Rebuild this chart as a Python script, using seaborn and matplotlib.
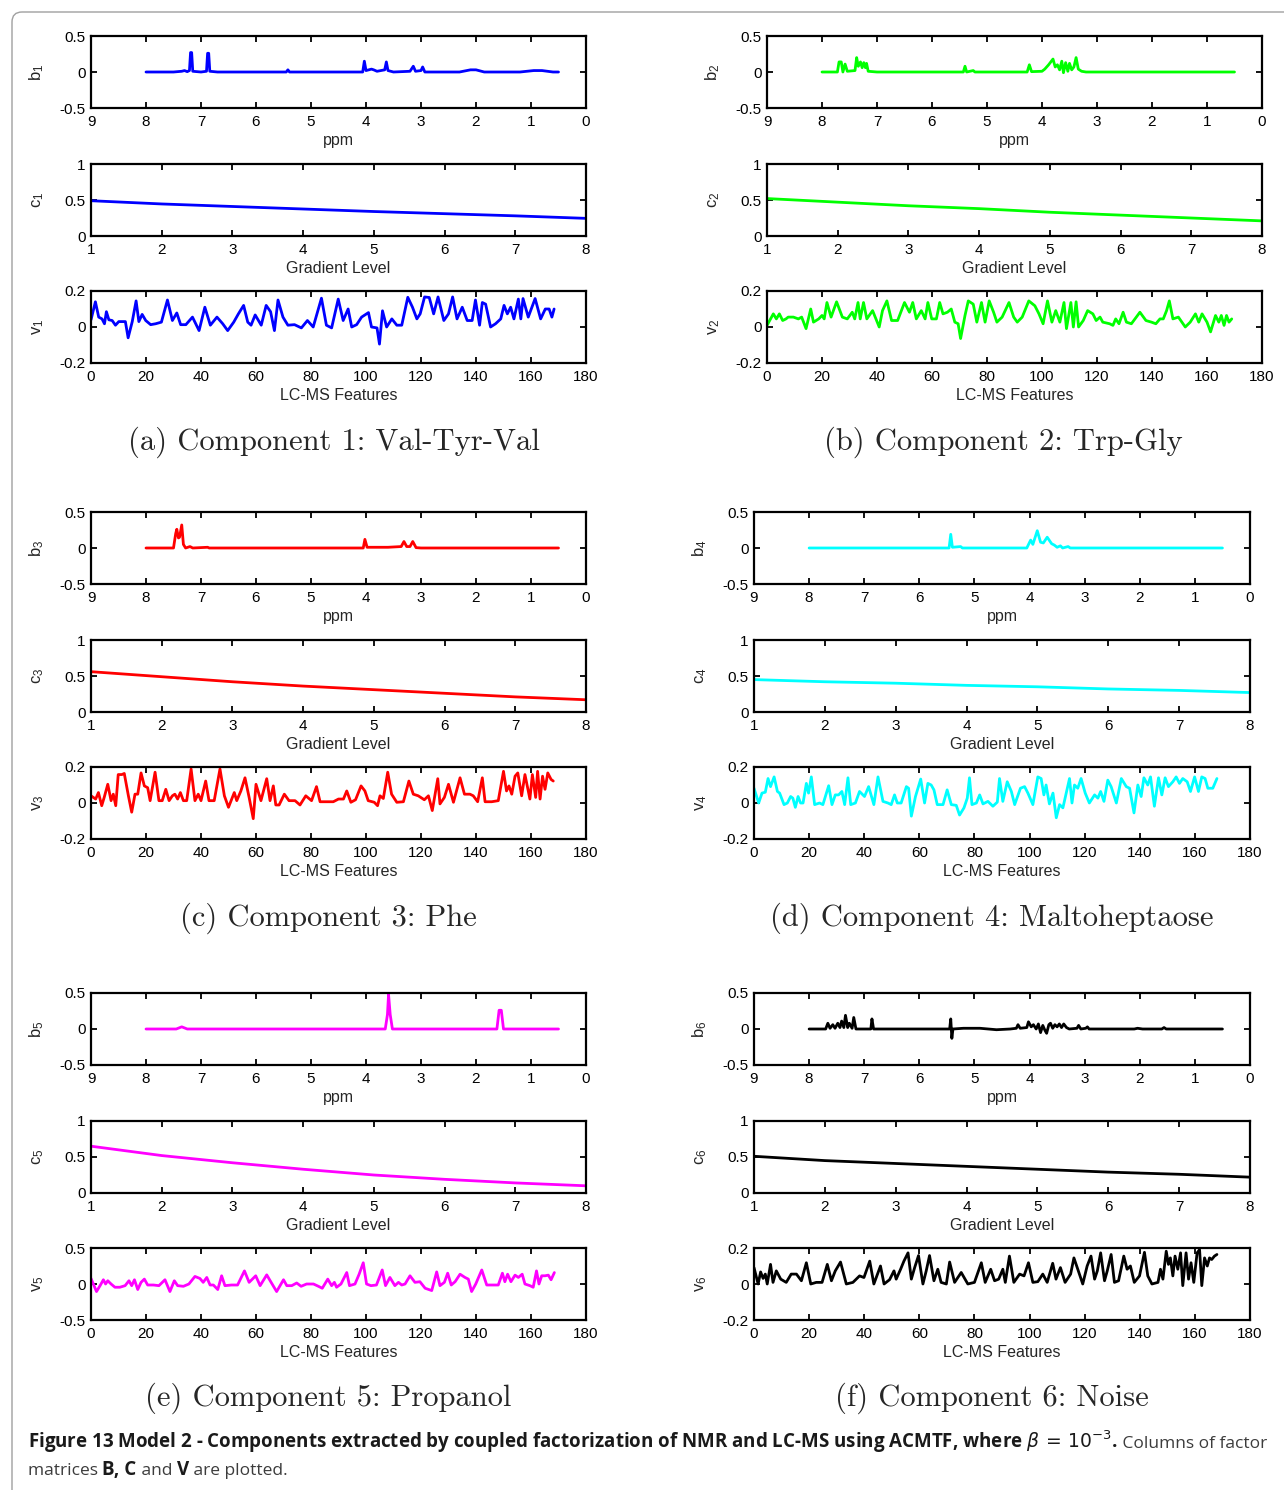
import matplotlib
matplotlib.use("Agg")
import matplotlib.pyplot as plt
import seaborn as sns
from matplotlib.patches import FancyBboxPatch
from matplotlib.transforms import IdentityTransform

# ---- NMR spectra (ppm, loading) ----
b1 = [(8.0, 0), (7.5, 0), (7.35, 0.01), (7.3, 0.02), (7.25, 0.005), (7.21, 0.02), (7.19, 0.27), (7.17, 0.27),
      (7.15, 0.01), (7.0, 0), (6.9, 0.01), (6.88, 0.26), (6.86, 0.26), (6.84, 0.01), (6.7, 0), (5.45, 0),
      (5.42, 0.03), (5.39, 0), (4.06, 0), (4.03, 0.15), (4.0, 0.02), (3.9, 0.04), (3.86, 0.03), (3.8, 0.01),
      (3.66, 0.03), (3.63, 0.14), (3.6, 0.02), (3.5, 0), (3.2, 0.01), (3.14, 0.08), (3.1, 0.01), (3.0, 0.02),
      (2.97, 0.07), (2.93, 0), (2.3, 0), (2.1, 0.03), (2.0, 0.03), (1.85, 0), (1.2, 0), (0.95, 0.02),
      (0.8, 0.02), (0.6, 0), (0.5, 0)]
b2 = [(8.0, 0), (7.72, 0), (7.69, 0.14), (7.65, 0.14), (7.62, 0), (7.58, 0.11), (7.54, 0.01), (7.4, 0.02),
      (7.37, 0.2), (7.34, 0.08), (7.3, 0.14), (7.27, 0.06), (7.24, 0.13), (7.21, 0.06), (7.19, 0.12),
      (7.16, 0.01), (7.0, 0), (5.43, 0), (5.4, 0.08), (5.37, 0), (5.25, 0.02), (5.22, 0), (4.27, 0),
      (4.23, 0.1), (4.19, 0.005), (4.0, 0.01), (3.95, 0.04), (3.88, 0.1), (3.8, 0.18), (3.76, 0.07),
      (3.72, 0.1), (3.68, 0.03), (3.64, 0.15), (3.61, -0.01), (3.57, 0.13), (3.53, 0.01), (3.5, 0.12),
      (3.46, 0.03), (3.42, 0.07), (3.38, 0.2), (3.34, 0.04), (3.28, 0.01), (3.2, 0), (0.5, 0)]
b3 = [(8.0, 0), (7.5, 0), (7.46, 0.2), (7.44, 0.26), (7.41, 0.14), (7.39, 0.15), (7.35, 0.32), (7.32, 0.05),
      (7.28, 0.0), (7.2, 0.02), (7.15, 0), (6.88, 0.01), (6.85, 0), (4.05, 0), (4.02, 0.12), (3.98, 0.01),
      (3.6, 0.01), (3.36, 0.02), (3.31, 0.09), (3.26, 0.02), (3.2, 0.02), (3.15, 0.09), (3.09, 0.005),
      (3.0, 0), (0.5, 0)]
b4 = [(8.0, 0), (5.46, 0), (5.43, 0.19), (5.4, 0.01), (5.25, 0.02), (5.22, 0), (4.05, 0), (3.98, 0.11),
      (3.94, 0.05), (3.86, 0.24), (3.8, 0.08), (3.75, 0.07), (3.68, 0.15), (3.6, 0.06), (3.55, 0.04),
      (3.5, 0.01), (3.44, 0.03), (3.4, 0), (3.3, 0.02), (3.26, 0), (0.5, 0)]
b5 = [(8.0, 0), (7.45, 0), (7.35, 0.03), (7.25, 0), (3.65, 0), (3.61, 0.2), (3.59, 0.48), (3.56, 0.2),
      (3.52, 0), (1.62, 0), (1.58, 0.26), (1.54, 0.26), (1.5, 0), (0.5, 0)]
b6 = [(8.0, 0), (7.7, 0), (7.66, 0.08), (7.62, 0.01), (7.57, 0.06), (7.53, 0.01), (7.48, 0.08), (7.44, 0.02),
      (7.41, 0.11), (7.37, 0.02), (7.34, 0.19), (7.3, 0.02), (7.27, 0.08), (7.22, 0.01), (7.19, 0.16),
      (7.15, 0), (6.88, 0), (6.86, 0.14), (6.83, 0), (5.45, 0), (5.43, 0.14), (5.41, -0.13), (5.39, 0),
      (5.2, 0.01), (4.9, 0.01), (4.6, -0.01), (4.35, 0), (4.24, 0.01), (4.21, 0.06), (4.17, 0.01),
      (4.05, 0.02), (4.02, 0.1), (3.97, 0.03), (3.93, 0.06), (3.88, 0.0), (3.84, 0.07), (3.8, -0.05),
      (3.76, 0.05), (3.72, -0.02), (3.69, -0.06), (3.65, 0.06), (3.62, 0.08), (3.58, 0.01), (3.54, 0.06),
      (3.5, 0.03), (3.46, 0.07), (3.42, 0.02), (3.38, 0.07), (3.33, 0.02), (3.28, 0.0), (3.14, 0.01),
      (3.11, 0.05), (3.07, 0.0), (2.98, 0.01), (2.95, 0.03), (2.92, 0), (2.1, 0), (2.04, 0.01), (1.95, 0),
      (1.6, 0), (1.56, 0.02), (1.52, 0), (0.5, 0)]

# ---- gradient level profiles ----
gradient = [1, 2, 3, 4, 5, 6, 7, 8]
c1 = [0.49, 0.445, 0.41, 0.375, 0.34, 0.31, 0.28, 0.245]
c2 = [0.52, 0.47, 0.42, 0.38, 0.33, 0.29, 0.25, 0.21]
c3 = [0.56, 0.49, 0.42, 0.36, 0.31, 0.26, 0.21, 0.17]
c4 = [0.45, 0.42, 0.40, 0.37, 0.35, 0.32, 0.30, 0.27]
c5 = [0.65, 0.52, 0.42, 0.33, 0.25, 0.19, 0.14, 0.10]
c6 = [0.51, 0.45, 0.41, 0.37, 0.33, 0.29, 0.26, 0.22]

# ---- LC-MS feature loadings (feature, loading) ----
v1 = [(0, 0.04), (1.6, 0.14), (2.8, 0.055), (4, 0.045), (4.9, 0.018), (5.6, 0.085), (6.5, 0.04), (7.7, 0.036),
      (8.9, 0.01), (10.1, 0.03), (12.5, 0.03), (13.5, -0.06), (15, 0.03), (16.4, 0.145), (17.4, 0.03),
      (18.6, 0.07), (19.9, 0.036), (21.7, 0.013), (23.5, 0.018), (25.6, 0.027), (27.8, 0.15), (29.6, 0.036),
      (31.2, 0.078), (32.6, 0.013), (34.5, 0.013), (36.9, 0.055), (39.3, -0.02), (41.4, 0.11), (43.4, 0.01),
      (45.8, 0.055), (47.9, 0.018), (49.7, -0.02), (51.9, 0.027), (53.6, 0.073), (55.5, 0.12), (57, 0.027),
      (58.2, 0.01), (59.7, 0.067), (61.9, 0.01), (63.7, 0.12), (65.3, 0.085), (66.7, -0.02), (68, 0.15),
      (69.8, 0.055), (71.6, 0.01), (74, 0.013), (76.5, -0.005), (78.7, 0.036), (80.8, 0), (82, 0.064),
      (83.8, 0.16), (85.6, 0.01), (87.5, -0.005), (89.9, 0.155), (91.7, 0.036), (93.5, 0.1), (94.8, 0),
      (96.6, 0.013), (98.4, 0.055), (100.9, 0.08), (102, 0), (104, -0.005), (104.9, -0.095), (106, 0.09),
      (107.5, 0), (109.4, 0.045), (111.2, 0.01), (113, 0.01), (115.2, 0.165), (116.9, 0.11), (118.5, 0.045),
      (119.7, 0.073), (121.3, 0.167), (123, 0.164), (124.6, 0.073), (126.2, 0.167), (128.3, 0.036),
      (130, 0.073), (131.5, 0.167), (133.1, 0.045), (135, 0.11), (136.8, 0.036), (138.6, 0.036),
      (139.8, 0.15), (141.3, 0.01), (142.3, 0.136), (143.5, 0.127), (145.3, 0), (147.1, 0.018), (149, 0.045),
      (150.2, 0.12), (151.4, 0.073), (152.6, 0.11), (153.8, 0.045), (155.4, 0.155), (156.3, 0.045),
      (157.1, 0.158), (159, 0.055), (161.5, 0.158), (163.5, 0.045), (165.2, 0.1), (166.6, 0.1),
      (167.6, 0.055), (168.4, 0.1)]
v2 = [(0, 0.009), (2.3, 0.073), (3.4, 0.045), (4.5, 0.073), (5.7, 0.036), (6.9, 0.045), (7.7, 0.055),
      (9.6, 0.055), (11.4, 0.045), (12.6, 0.055), (14.2, -0.009), (15.9, 0.1), (16.9, 0.027), (18.8, 0.045),
      (20, 0.064), (20.8, 0.045), (21.8, 0.136), (23.3, 0.055), (25.3, 0.14), (27.4, 0.055), (29.2, 0.045),
      (31, 0.082), (31.9, 0.045), (33.1, 0.136), (33.9, 0.045), (35.1, 0.136), (36.3, 0.045), (38.4, 0.091),
      (40.8, 0), (42, 0.091), (43.6, 0.145), (45.3, 0.036), (47.5, 0.036), (50, 0.136), (51.8, 0.082),
      (53, 0.136), (54.3, 0.045), (56.1, 0.091), (57.5, 0.045), (58.5, 0.136), (59.9, 0.045), (61.6, 0.045),
      (62.8, 0.136), (64, 0.073), (65.6, 0.082), (67, 0.1), (68.3, 0.027), (69.5, 0.018), (70.4, -0.064),
      (72, 0.064), (73.2, 0.145), (75, 0.127), (76.3, 0.027), (78, 0.136), (79.3, 0.027), (80.8, 0.145),
      (82.4, 0.082), (83.6, 0.027), (85.5, 0.055), (88, 0.136), (89.7, 0.055), (91, 0.027), (92.8, 0.055),
      (95.2, 0.145), (97.4, 0.118), (98.9, 0.073), (100.4, 0.018), (102, 0.145), (103.6, 0.027),
      (105, 0.091), (106.5, 0.027), (108, 0.136), (108.9, -0.009), (110.5, 0.136), (111.4, 0),
      (112.4, 0.14), (113.3, 0), (115, 0.036), (116.6, 0.091), (118.5, 0.073), (119.7, 0.036),
      (121.1, 0.055), (122.1, 0.027), (124.6, 0.018), (125.8, 0.009), (126.8, 0.045), (128, 0.018),
      (129.5, 0.082), (130.7, 0.027), (132.5, 0.018), (135.6, 0.082), (137.8, 0.036), (139.8, 0.027),
      (141.4, 0.018), (142.9, 0.045), (144.1, 0.045), (145.3, 0.091), (146.3, 0.145), (147.6, 0.045),
      (149.6, 0.055), (152.1, 0), (153.9, 0.027), (155.8, 0.073), (157, 0.027), (158.2, 0.073), (160, 0.027),
      (161.3, -0.027), (163.1, 0.064), (164.3, 0.027), (165.2, 0.064), (166.2, 0.009), (167.1, 0.064),
      (168, 0.027), (169, 0.045)]
v3 = [(0, 0.04), (1.7, 0.022), (2.7, 0.058), (3.9, -0.015), (4.8, 0.031), (6.1, 0.104), (7.3, 0.013),
      (8.1, 0.049), (9, -0.015), (9.9, 0.158), (11.2, 0.158), (12.1, 0.164), (13.6, 0.04), (14.8, -0.051),
      (16, 0.049), (17, 0.049), (18.2, 0.167), (19.4, 0.095), (20.6, 0.085), (21.5, 0.013), (23.3, 0.171),
      (24.7, 0.013), (25.9, 0.013), (27.2, 0.076), (28.4, 0.013), (29.6, 0.04), (30.5, 0.049), (31.5, 0.022),
      (32.5, 0.058), (33.6, 0.013), (34.8, 0.013), (36.4, 0.189), (37.8, 0.013), (39, 0.049), (40, 0.013),
      (41.7, 0.122), (42.9, 0.013), (44.8, 0.013), (46.9, 0.189), (48.5, 0.04), (50, -0.024), (52.1, 0.058),
      (53, 0.013), (54.5, 0.067), (56, 0.14), (57.5, 0.031), (59, -0.087), (60, 0.104), (61.8, 0.013),
      (63.9, 0.135), (65.1, 0.013), (66.3, 0.095), (67.2, -0.011), (68.4, -0.011), (70.3, 0.049), (72, 0.013),
      (74.2, 0.013), (76, -0.011), (78.1, 0.04), (80.2, 0.013), (82, 0.091), (83.3, 0.007), (86.3, 0.007),
      (88.1, 0.007), (90, 0.022), (91.8, 0.022), (93, 0.067), (94.5, 0.004), (96.2, 0.018), (98.2, 0.095),
      (99.6, 0.067), (100.8, 0.013), (103, 0.004), (104.2, -0.015), (105.1, 0.04), (106.3, 0.025),
      (107.9, 0.171), (109.3, 0.049), (111.2, 0.004), (113.6, 0.007), (115.6, 0.122), (117.2, 0.049),
      (119, 0.04), (121.2, 0.018), (122.7, 0.04), (124.1, -0.042), (126.1, 0.135), (126.9, -0.005),
      (128.5, 0.031), (130, 0.104), (131.8, 0.004), (134.2, 0.14), (135.8, 0.049), (137.8, 0.049),
      (139, 0.04), (140.6, 0.007), (142.3, 0.14), (143.3, 0.007), (145.7, 0.007), (148.1, 0.013),
      (150, 0.176), (151.1, 0.067), (152, 0.095), (153, 0.049), (154.2, 0.149), (155.2, 0.167),
      (156.6, 0.04), (157.8, 0.158), (159.6, 0.022), (160.5, 0.158), (161.7, 0.031), (162.4, 0.176),
      (163.3, 0.022), (164.2, 0.149), (165.1, 0.076), (166.1, 0.167), (167.3, 0.131), (168.1, 0.122)]
v4 = [(0, 0.082), (1.7, 0), (2.9, 0.055), (4.1, 0.06), (5.1, 0.136), (6, 0.091), (7.3, 0.145), (8.5, 0.064),
      (9.3, 0.055), (10.9, -0.009), (12.1, 0), (13.3, 0.036), (14.1, 0.027), (15, -0.024), (16, 0.036),
      (16.9, 0), (17.8, 0), (19, 0.109), (19.8, 0.055), (20.8, 0.145), (22, -0.009), (23.8, 0), (25, -0.009),
      (27.1, 0.096), (28.3, -0.009), (29.5, 0.045), (30.7, 0.045), (31.9, 0.064), (32.9, -0.009),
      (34.1, 0.14), (35.1, -0.009), (36.8, 0), (38.3, 0.064), (40.1, 0.036), (41.6, 0.091), (43.5, -0.009),
      (45, 0.145), (46.8, 0.009), (48.6, 0), (49.8, -0.009), (51, 0.045), (52, 0), (53.4, 0), (55.3, 0.091),
      (56.1, 0.082), (57.1, -0.073), (58.6, 0.036), (60.5, 0.133), (61.9, 0), (63.1, 0.109), (64.3, 0.1),
      (65.3, 0.073), (66.5, -0.009), (68.6, -0.009), (70.1, 0.073), (71.6, -0.009), (73.4, -0.013),
      (74.6, -0.067), (76.2, -0.027), (77.4, 0.027), (78.2, 0.14), (79.1, -0.009), (80.7, 0), (81.9, 0.045),
      (83.1, -0.005), (84.9, 0.009), (86.7, -0.018), (88.3, 0.005), (89.1, 0.136), (90.3, 0.009),
      (91.9, 0.118), (93.4, 0.064), (94.6, -0.009), (96.7, 0.082), (98.2, 0.091), (99.4, 0.055),
      (101.2, -0.009), (103, 0.145), (104.2, 0.136), (105.2, 0.045), (106, 0.1), (107.2, -0.005),
      (108.5, 0.055), (109.7, -0.082), (110.9, -0.009), (112.1, -0.027), (113.3, 0.055), (114.5, 0.136),
      (115.4, 0), (116.3, 0.1), (117.5, 0.082), (118.7, 0.136), (120.2, 0.055), (121.7, 0), (123.6, 0.045),
      (124.8, 0.027), (125.8, 0.064), (127, 0.009), (128.4, 0.127), (129.6, 0.091), (131.5, 0),
      (133.3, 0.136), (135.1, 0.091), (136.3, 0.082), (137.9, -0.055), (139.3, 0.1), (140.5, 0.036),
      (141.5, 0.14), (142.9, 0.1), (143.9, 0.145), (145.3, -0.018), (146.8, 0.14), (148, 0.045),
      (149.2, 0.14), (150.4, 0.091), (152, 0.118), (153.2, 0.145), (154.4, 0.109), (155.6, 0.136),
      (157.2, 0.118), (158.4, 0.064), (159.9, 0.145), (161.3, 0.064), (162.5, 0.145), (163.7, 0.136),
      (164.7, 0.082), (166.5, 0.082), (168, 0.136)]
v5 = [(0, 0.077), (2, -0.105), (3.3, -0.023), (4.5, 0.059), (5.3, 0), (6.1, 0.045), (7.3, 0), (8.7, -0.045),
      (10.5, -0.045), (12.4, -0.023), (13.8, 0.045), (14.8, -0.023), (15.8, 0.059), (17, -0.077),
      (18.2, 0.023), (19.4, 0.068), (20.6, -0.014), (22.7, -0.014), (24.7, -0.023), (26.9, 0.059),
      (28.7, -0.105), (30.3, 0.045), (31.5, -0.023), (33.6, -0.032), (35.6, 0), (37.8, 0.105), (39.6, 0.077),
      (40.8, 0.023), (42.1, 0.091), (43.3, -0.014), (44.5, -0.014), (46.1, -0.077), (47.5, 0.114),
      (48.7, -0.023), (51.1, -0.014), (53.3, -0.014), (55.8, 0.182), (57.5, 0.023), (59.9, 0.114),
      (61.5, -0.023), (63.9, 0.127), (65.5, 0.023), (67.5, -0.105), (70, 0.059), (71.2, -0.023),
      (73, -0.023), (74.8, 0.014), (76.4, -0.032), (78.4, 0), (80.9, 0), (82.7, -0.032), (84.1, -0.059),
      (86.1, 0.068), (87.5, -0.023), (88.5, 0.023), (89.3, -0.045), (90.9, 0), (93, 0.159), (94, -0.023),
      (96, 0), (97.5, 0.136), (99, 0.295), (100.2, 0), (101.8, -0.023), (103.8, -0.014), (105.9, 0.195),
      (107.1, -0.023), (108.7, 0.091), (110.5, -0.023), (111.8, 0.023), (113, -0.014), (114.2, 0),
      (116, 0.114), (117.8, 0.023), (119.6, 0.032), (121.5, -0.059), (123.9, -0.091), (125.7, 0.168),
      (126.9, -0.023), (128.5, 0.023), (129.7, 0.15), (131, -0.014), (132.4, 0.032), (134.2, 0.136),
      (136, 0.091), (137.2, 0.068), (138.4, -0.105), (139.9, 0), (142.1, 0.195), (143.9, -0.014),
      (146.3, -0.014), (148.1, -0.014), (149.6, 0.15), (150.5, 0.032), (151.5, 0.136), (152.7, 0.032),
      (154.2, 0.123), (155.4, 0.091), (156.8, 0.136), (157.8, 0), (159.6, -0.023), (160.8, -0.045),
      (162, 0.182), (162.9, 0), (163.9, 0.114), (165.1, 0.114), (166.3, 0.123), (167.3, 0.059),
      (168.5, 0.159)]
v6 = [(0, 0.091), (1.5, 0), (2.4, 0.067), (3.3, 0.031), (4.1, 0.055), (4.8, 0), (6, 0.109), (6.9, 0.009),
      (8.1, 0.073), (9.7, 0.027), (11.7, 0.009), (13.5, 0.055), (15.4, 0.055), (17.2, 0.018), (19, 0.118),
      (20.6, 0), (22.6, 0.009), (24.7, 0.009), (26.6, 0.109), (28.1, 0.018), (29.5, 0.073), (31.4, 0.122),
      (33.5, 0), (35.9, 0.009), (38.3, 0.045), (39.9, 0.036), (42, 0.127), (43.5, 0), (45.9, 0.1), (47.2, 0),
      (49.2, 0.024), (50.8, 0.073), (51.6, 0.027), (53.2, 0.082), (54.4, 0.127), (55.9, 0.173),
      (57.1, 0.027), (58.3, 0.091), (59.7, 0.158), (61.3, 0), (62.5, 0.073), (63.7, 0.158), (65.3, 0.018),
      (66.7, 0.082), (67.9, 0.009), (69.8, 0), (71, 0.122), (72.8, 0.009), (75.2, 0.064), (77.6, 0),
      (80, 0.009), (82.5, 0.118), (83.9, 0.009), (85.9, 0.082), (87.3, 0.018), (88.8, 0.027), (90.3, 0.082),
      (91.2, 0.009), (92.7, 0.155), (94.3, 0.009), (96.4, 0.055), (98, 0.045), (99.6, 0.118), (101.2, 0.009),
      (103, 0.013), (104.8, 0.055), (106.4, 0.009), (108.4, 0.115), (109.6, 0.027), (111.2, 0.091),
      (112.9, 0.009), (114.9, 0.055), (116.1, 0.145), (117.5, 0.082), (119.3, 0), (120.9, 0.1),
      (122.3, 0.155), (123.6, 0.027), (124.6, 0.073), (125.8, 0.173), (127.2, 0.018), (128.2, 0.073),
      (129.6, 0.164), (130.8, 0.009), (132.3, 0.018), (134.2, 0.155), (135.4, 0.082), (136.6, 0.1),
      (138, 0.009), (139.9, 0.045), (141.7, 0.176), (142.9, 0.045), (144.4, 0), (146.6, 0.009),
      (147.5, 0.082), (148.4, 0.027), (149.6, 0.182), (150.4, 0.109), (151.1, 0.145), (152, 0.045),
      (152.8, 0.155), (153.8, 0.082), (154.8, 0.173), (155.6, -0.009), (156.8, 0.173), (157.7, 0.027),
      (158.6, 0.118), (159.6, 0.009), (160.8, 0.173), (161.7, 0.191), (162.5, -0.009), (163.5, 0.145),
      (164.5, 0.1), (165.3, 0.145), (166.1, 0.136), (167.1, 0.155), (168, 0.164)]

colors = ['#0000ff', '#00ff00', '#ff0000', '#00ffff', '#ff00ff', '#000000']
titles = ['(a) Component 1: Val-Tyr-Val', '(b) Component 2: Trp-Gly', '(c) Component 3: Phe',
          '(d) Component 4: Maltoheptaose', '(e) Component 5: Propanol', '(f) Component 6: Noise']

W, H = 1284, 1490

sns.set_style("white")
plt.rcParams['font.family'] = ['Liberation Sans', 'DejaVu Sans']

fig = plt.figure(figsize=(W / 100, H / 100), dpi=100)

# grey rounded frame round the whole figure
border = FancyBboxPatch((12, -30), W + 30, H + 18, boxstyle="round,pad=0,rounding_size=10",
                        transform=IdentityTransform(), fill=False, edgecolor='#a0a0a0', linewidth=1)
fig.add_artist(border)


def add_ax(x0, x1, top):
    return fig.add_axes([x0 / W, 1 - (top + 72) / H, (x1 - x0) / W, 72 / H])


def frame(ax, width_px):
    for s in ax.spines.values():
        s.set_visible(True)
        s.set_linewidth(1.6)
        s.set_color('black')
    ax.tick_params(direction='in', length=4, width=1.3, top=True, right=True, bottom=True, left=True,
                   labelsize=11, colors='black')
    ax.tick_params(axis='x', pad=5)
    ax.tick_params(axis='y', pad=4)
    ax.grid(False)
    ax.yaxis.set_label_coords(-45 / width_px, 0.5)
    ax.xaxis.set_label_coords(0.5, -25 / 72)


# pixel geometry of the three panel rows and two columns
row_tops = [36, 512, 993]
col_x = [[(91, 586), (767, 1262)], [(91, 586), (754, 1250)], [(91, 586), (754, 1250)]]
title_y = [442, 918, 1398]
title_x = [[334, 1003], [328, 992], [328, 992]]

b_data = [b1, b2, b3, b4, b5, b6]
c_data = [c1, c2, c3, c4, c5, c6]
v_data = [v1, v2, v3, v4, v5, v6]

for k in range(6):
    r, c = k // 2, k % 2
    x0, x1 = col_x[r][c]
    top = row_tops[r]
    col = colors[k]
    wpx = x1 - x0

    # NMR mode
    ax = add_ax(x0, x1, top)
    ppm, val = zip(*b_data[k])
    sns.lineplot(x=list(ppm), y=list(val), ax=ax, color=col, linewidth=2, estimator=None, sort=False)
    ax.set_xlim(9, 0)
    ax.set_ylim(-0.5, 0.5)
    ax.set_xticks(range(9, -1, -1), [str(t) for t in range(9, -1, -1)])
    ax.set_yticks([-0.5, 0, 0.5], ['-0.5', '0', '0.5'])
    frame(ax, wpx)
    ax.set_xlabel('ppm', fontsize=11.5)
    ax.set_ylabel(r'$\mathregular{b_%d}$' % (k + 1), fontsize=12)

    # gradient mode
    ax = add_ax(x0, x1, top + 128)
    sns.lineplot(x=gradient, y=c_data[k], ax=ax, color=col, linewidth=2, estimator=None, sort=False)
    ax.set_xlim(1, 8)
    ax.set_ylim(0, 1)
    ax.set_xticks(gradient, [str(t) for t in gradient])
    ax.set_yticks([0, 0.5, 1], ['0', '0.5', '1'])
    frame(ax, wpx)
    ax.set_xlabel('Gradient Level', fontsize=11.5)
    ax.set_ylabel(r'$\mathregular{c_%d}$' % (k + 1), fontsize=12)

    # LC-MS mode
    ax = add_ax(x0, x1, top + 255)
    feat, load = zip(*v_data[k])
    sns.lineplot(x=list(feat), y=list(load), ax=ax, color=col, linewidth=2, estimator=None, sort=False)
    ax.set_xlim(0, 180)
    if k == 4:
        ax.set_ylim(-0.5, 0.5)
        ax.set_yticks([-0.5, 0, 0.5], ['-0.5', '0', '0.5'])
    else:
        ax.set_ylim(-0.2, 0.2)
        ax.set_yticks([-0.2, 0, 0.2], ['-0.2', '0', '0.2'])
    ax.set_xticks(range(0, 181, 20), [str(t) for t in range(0, 181, 20)])
    frame(ax, wpx)
    ax.set_xlabel('LC-MS Features', fontsize=11.5)
    ax.set_ylabel(r'$\mathregular{v_%d}$' % (k + 1), fontsize=12)

    fig.text(title_x[r][c] / W, 1 - title_y[r] / H, titles[k], ha='center', va='center',
             family='cmr10', fontsize=22)

# caption, bold and regular runs placed one after another
renderer = fig.canvas.get_renderer()


def run_text(x_px, y_px, pieces):
    for s, weight, color, size in pieces:
        t = fig.text(x_px / W, 1 - y_px / H, s, fontsize=size, fontweight=weight, color=color,
                     family=['Open Sans', 'DejaVu Sans'], va='baseline', ha='left')
        x_px = t.get_window_extent(renderer=renderer).x1


dark = '#1a1a1a'
grey = '#3c3c3c'
run_text(28, 1448, [
    ('Figure 13 Model 2 - Components extracted by coupled factorization of NMR and LC-MS using ACMTF, '
     r'where $\beta\,=\,10^{-3}$.', 'bold', dark, 13.5),
    (' Columns of factor', 'normal', grey, 12.5)])
run_text(28, 1475, [('matrices ', 'normal', grey, 12.5), ('B, C', 'bold', dark, 13.5),
                    (' and ', 'normal', grey, 12.5), ('V', 'bold', dark, 13.5),
                    (' are plotted.', 'normal', grey, 12.5)])

fig.savefig('out.png', dpi=100, facecolor='white')
